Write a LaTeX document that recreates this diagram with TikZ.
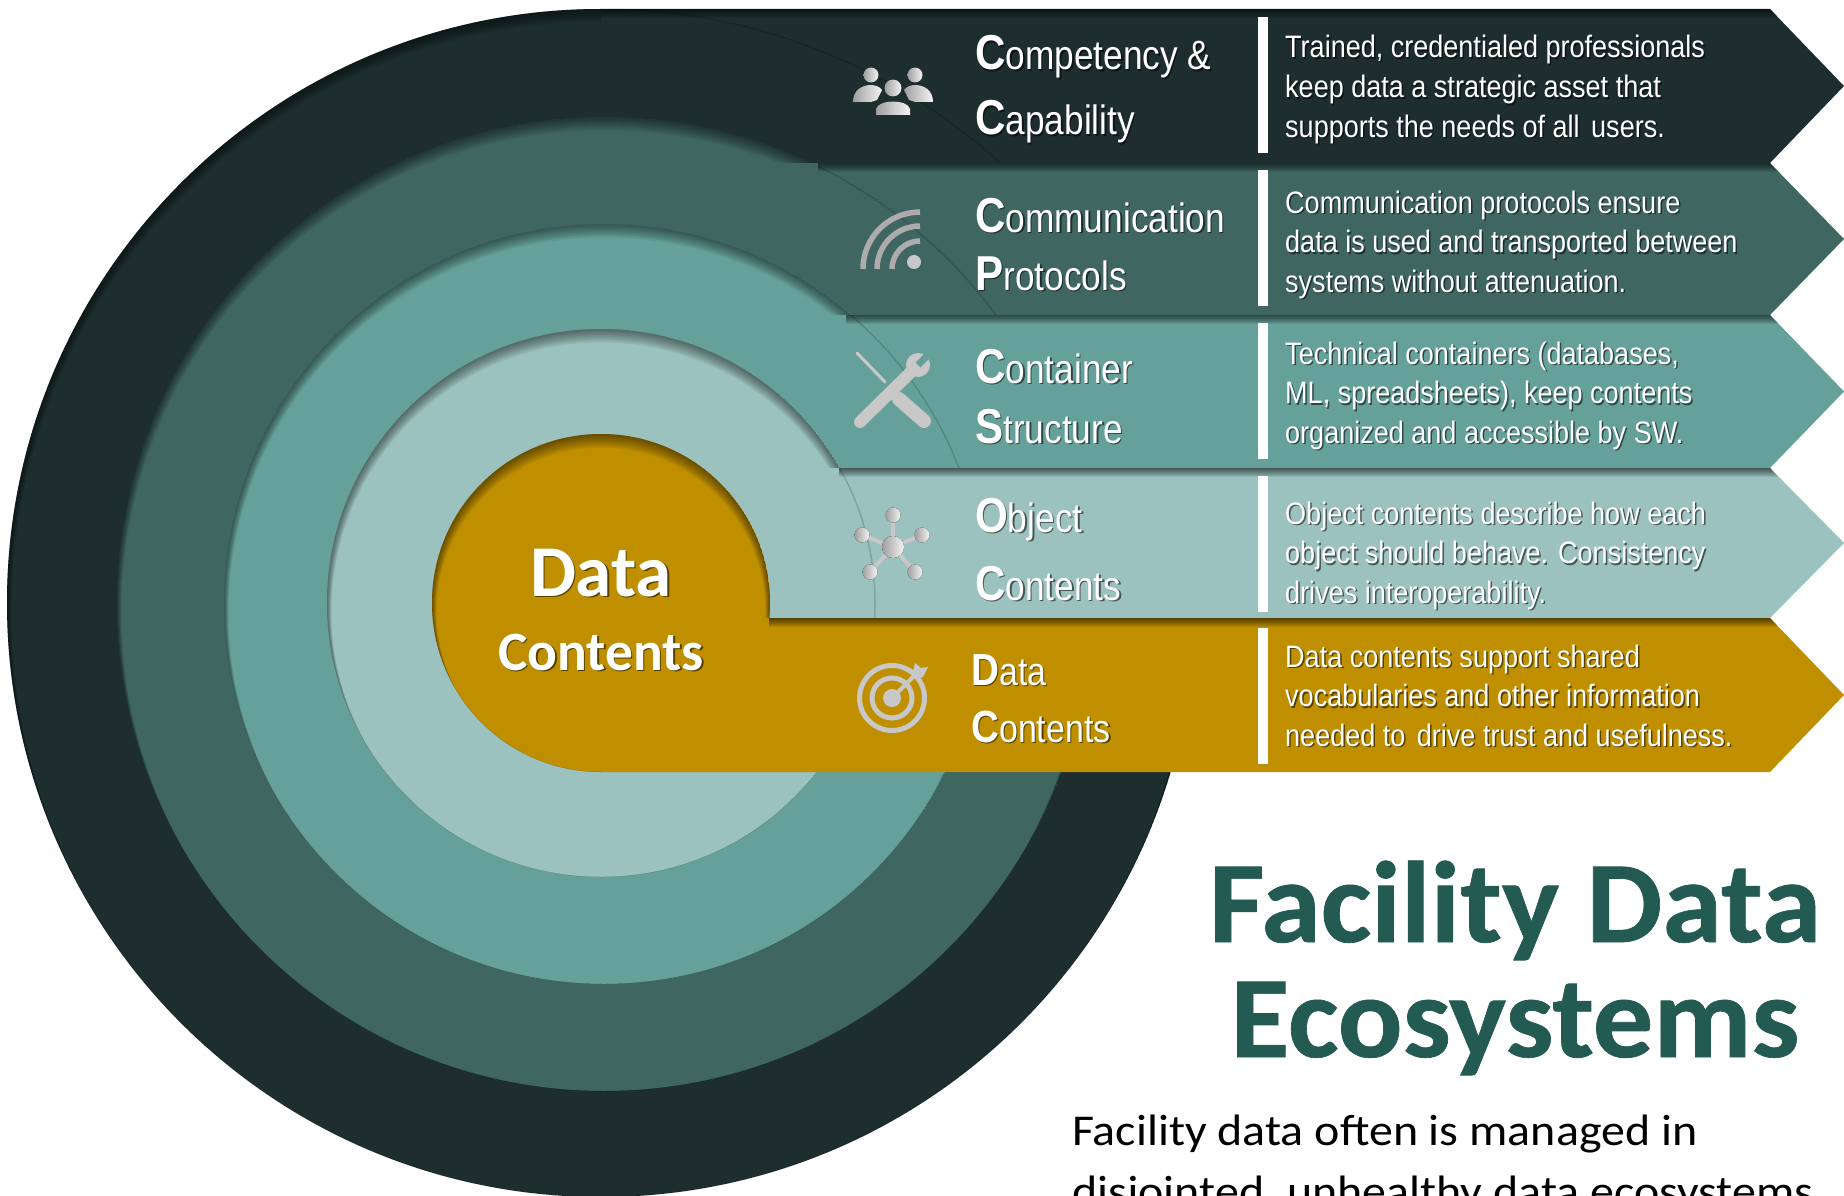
\documentclass[tikz,border=0pt]{standalone}
\usepackage{fontspec}
\usepackage{tikz}
\setmainfont{Carlito}
\newfontfamily\bandfont[FakeStretch=.86]{Liberation Sans}
\newfontfamily\descfont[FakeStretch=.872]{Liberation Sans}
\newfontfamily\titlefont[FakeStretch=1.04,FakeBold=.6]{Carlito}
\newfontfamily\introfont[FakeStretch=1.09]{Carlito}
\definecolor{tierone}{RGB}{30,46,46}
\definecolor{tiertwo}{RGB}{64,102,98}
\definecolor{tierthree}{RGB}{101,161,154}
\definecolor{tierfour}{RGB}{155,194,190}
\definecolor{tierfive}{RGB}{191,143,0}
\definecolor{titlegreen}{RGB}{35,90,82}
\definecolor{silver}{RGB}{200,200,200}
% soft shadow behind white lettering
\newcommand{\shadowed}[1]{\rlap{\pgfsetfillopacity{.55}\color{black}\kern1.5pt\raisebox{-1.5pt}{#1}\pgfsetfillopacity{1}}#1}
\newcommand{\headfont}{\bandfont\fontsize{41}{41}\selectfont}
\newcommand{\leadcap}[1]{{\fontsize{49}{49}\selectfont\bfseries #1}}
\newcommand{\smallcap}[1]{{\fontsize{45}{45}\selectfont\bfseries #1}}
\tikzset{
  headtext/.style={anchor=base west,inner sep=0pt,text=white,font=\headfont},
  bodytext/.style={anchor=base west,inner sep=0pt,text=white,align=left,
    font=\descfont\fontsize{31}{39.7}\selectfont},
  hubtext/.style={anchor=base,inner sep=0pt,text=white},
  titletext/.style={anchor=base,inner sep=0pt,text=titlegreen,
    font=\titlefont\bfseries\fontsize{116}{116}\selectfont},
  introtext/.style={anchor=base west,inner sep=0pt,text=black,
    font=\introfont\fontsize{44}{44}\selectfont},
  silverfill/.style={left color=gray!75,right color=white!92!gray,draw=none},
  silverline/.style={draw=silver,line cap=round}
}
\begin{document}
\begin{tikzpicture}[x=1pt,y=-1pt]
  \path[use as bounding box] (0,0) rectangle (1844,1196);
  \clip (0,0) rectangle (1844,1196);

  % rings and arrow bands, from the outside in
  \foreach \tiercol/\xhub/\yhub/\rad/\ytop/\ymid/\ybot/\xstart in
    {tierone/601/603/594/9/86/163/601,tiertwo/604/604/487/163/239/315/818,
     tierthree/604/604/380/315/391.5/468/846,tierfour/601/603/274/468/543/618/839,
     tierfive/601/603/169/618/695/772/769}{
    \coordinate (hub) at (\xhub,\yhub);
    \fill[\tiercol] (hub) circle (\rad);
    \begin{scope}
      \clip (hub) circle (\rad);
      \foreach \d in {1,...,9}
        \fill[black,fill opacity=.06,even odd rule] (hub) circle (\rad)
          ([yshift=-\d pt]hub) circle (\rad-\d/2);
    \end{scope}
    \fill[\tiercol] (601,\ytop) -- (1770,\ytop) -- (1844,\ymid) -- (1770,\ybot)
      -- (601,\ybot) -- cycle;
    \begin{scope}
      \clip (\xstart,\ytop) -- (1770,\ytop) -- (1844,\ymid) -- (1770,\ybot)
        -- (\xstart,\ybot) -- cycle;
      \foreach \d in {1,...,9}
        \fill[black,fill opacity=.08] (\xstart,\ytop) rectangle (1844,\ytop+\d);
      \draw[black,opacity=.16,line width=1.5pt] (hub) circle (\rad);
    \end{scope}
  }

  % white bars
  \foreach \ytop/\ybot in {17/153,170/306,323/459,476/612,628/764}
    \fill[white] (1258,\ytop) rectangle (1268,\ybot);

  % people
  \fill[silverfill] (871,75) circle (7.5);
  \fill[silverfill] (915,75) circle (7.5);
  \fill[silverfill] (893,88) circle (8.5);
  \fill[silverfill] (853,102) .. controls (853,90) and (862,85) .. (871,85)
    .. controls (876,85) and (880,87) .. (882,90) -- (877,100) -- (871,102) -- cycle;
  \fill[silverfill] (933,102) .. controls (933,90) and (924,85) .. (915,85)
    .. controls (910,85) and (906,87) .. (904,90) -- (909,100) -- (915,102) -- cycle;
  \fill[silverfill] (876,115) -- (876,109) .. controls (878,99) and (908,99) .. (910,109)
    -- (910,115) -- cycle;

  % signal
  \fill[silver] (914,262) circle (7);
  \foreach \r in {28,43,57}
    \draw[draw=gray!65,line width=5.5pt] (920-\r,269) arc (180:270:\r);

  % tools
  \draw[silverline,line width=3pt] (857,353) -- (885,382);
  \draw[silverline,line width=14pt] (899,399) -- (924,421);
  \draw[silverline,line width=12pt] (860,422) -- (914,369);
  \fill[silver] (918,365) circle (12);
  \draw[tierthree,line width=7pt] (918,365) -- (934,349);

  % molecule
  \foreach \x/\y in {893/515,922/535,915/572,870/572,862/535}{
    \draw[silverline,line width=4pt] (893,547) -- (\x,\y);
    \fill[silverfill] (\x,\y) circle (7.5);
  }
  \fill[silverfill] (893,547) circle (11);

  % target
  \draw[silver,line width=5pt] (892,698) circle (32.5);
  \draw[silver,line width=5pt] (892,698) circle (20);
  \fill[silver] (892,698) circle (9);
  \draw[silverline,line width=4pt] (892,698) -- (918,672);
  \fill[silver] (912,675) -- (915,663) -- (921,668) -- (928,667) -- (923,677) -- (917,679) -- cycle;

  % band headings
  \node[headtext] (competency) at (975,70) {\shadowed{\leadcap{C}ompetency \&}};
  \node[headtext] (capability) at (975,135) {\shadowed{\leadcap{C}apability}};
  \node[headtext] (communication) at (975,232) {\shadowed{\leadcap{C}ommunication}};
  \node[headtext] (protocols) at (975,290) {\shadowed{\leadcap{P}rotocols}};
  \node[headtext] (container) at (975,383) {\shadowed{\leadcap{C}ontainer}};
  \node[headtext] (structure) at (975,443) {\shadowed{\leadcap{S}tructure}};
  \node[headtext] (object) at (975,532) {\shadowed{\leadcap{O}bject}};
  \node[headtext] (objcontents) at (975,600) {\shadowed{\leadcap{C}ontents}};
  \node[headtext,font=\bandfont\fontsize{39.5}{39}\selectfont] (data) at (971,685) {\shadowed{\smallcap{D}ata}};
  \node[headtext,font=\bandfont\fontsize{39.5}{39}\selectfont] (datacontents) at (971,742) {\shadowed{\smallcap{C}ontents}};

  % band descriptions
  \node[bodytext] (competencytext) at (1285,137.4) {\shadowed{Trained, credentialed professionals}\\
    \shadowed{keep data a strategic asset that}\\\shadowed{supports the needs of all\kern4pt{} users.}};
  \node[bodytext] (communicationtext) at (1285,292.4) {\shadowed{Communication protocols ensure}\\
    \shadowed{data is used and transported between}\\\shadowed{systems without attenuation.}};
  \node[bodytext] (containertext) at (1285,443.4) {\shadowed{Technical containers (databases,}\\
    \shadowed{ML, spreadsheets), keep contents}\\\shadowed{organized and accessible by SW.}};
  \node[bodytext] (objecttext) at (1285,603.4) {\shadowed{Object contents describe how each}\\
    \shadowed{object should behave. Consistency}\\\shadowed{drives interoperability.}};
  \node[bodytext] (datatext) at (1285,746.4) {\shadowed{Data contents support shared}\\
    \shadowed{vocabularies and other information}\\\shadowed{needed to\kern4pt{} drive trust and usefulness.}};

  % hub label
  \node[hubtext,font=\bfseries\fontsize{73}{73}\selectfont] (hubdata) at (601,596) {\shadowed{Data}};
  \node[hubtext,font=\bfseries\fontsize{55.5}{55}\selectfont] (hubcontents) at (601,670) {\shadowed{Contents}};

  % title and text
  \node[titletext] (titleone) at (1515,942) {Facility Data};
  \node[titletext] (titletwo) at (1515,1057) {Ecosystems};
  \node[introtext] (introone) at (1072,1145) {Facility data often is managed in};
  \node[introtext] (introtwo) at (1072,1206) {disjointed, unhealthy data ecosystems};
\end{tikzpicture}
\end{document}
